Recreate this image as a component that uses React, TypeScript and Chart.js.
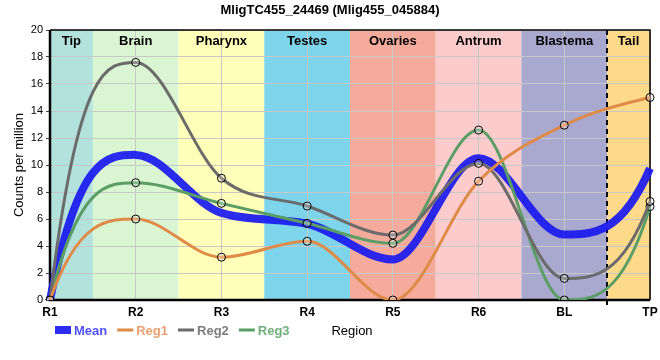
import React, { useEffect, useRef } from "react";
import { Chart, registerables } from "chart.js";

Chart.register(...registerables);

const titleText = "MligTC455_24469 (Mlig455_045884)";
const yAxisTitle = "Counts per million";
const xAxisTitle = "Region";
const regions = ["R1", "R2", "R3", "R4", "R5", "R6", "BL", "TP"];
const meanValues = [0, 10.75, 6.45, 5.65, 3.0, 10.5, 4.85, 9.75];
const reg1Values = [0, 6.0, 3.17, 4.35, 0, 8.8, 12.95, 15.0];
const reg2Values = [0, 17.6, 9.02, 6.96, 4.81, 10.12, 1.6, 7.3];
const reg3Values = [0, 8.69, 7.16, 5.68, 4.2, 12.59, 0, 6.92];
const bandNames = ["Tip", "Brain", "Pharynx", "Testes", "Ovaries", "Antrum", "Blastema", "Tail"];
const bandColors = ["#b3e2dd", "#d9f5d1", "#ffffb9", "#7ed4ea", "#f4ab9c", "#fccbcb", "#a9a8cf", "#fdd98a"];
const seriesNames = ["Mean", "Reg1", "Reg2", "Reg3"];
const seriesColors = ["rgba(25,25,240,0.92)", "#e08a48", "#6b6b6b", "#5a9e66"];
const legendTextColors = ["#5050ff", "#e8a070", "#7c7c7c", "#6fb07a"];
const dividerAfter = 6; // dashed line between BL and TP

const FONT = "'Liberation Sans', Arial, sans-serif";

const sgn = (v: number) => (v > 0 ? 1 : v < 0 ? -1 : 0);

// Monotone cubic tangents with steeper end tangents (matches the reference's curve style)
function applyTangents(chart: any) {
  const area = chart.chartArea;
  const clampY = (v: number) => Math.max(area.top, Math.min(area.bottom, v));
  chart.getSortedVisibleDatasetMetas().forEach((meta: any) => {
    const line = meta.dataset;
    if (line && typeof line.updateControlPoints === "function") line.updateControlPoints(area, "x");
    const pts = meta.data;
    const n = pts.length;
    if (n < 3) return;
    const d: number[] = [];
    for (let i = 0; i < n - 1; i++) d.push((pts[i + 1].y - pts[i].y) / (pts[i + 1].x - pts[i].x));
    const m: number[] = new Array(n).fill(0);
    for (let i = 1; i < n - 1; i++) {
      m[i] = sgn(d[i - 1]) !== sgn(d[i]) || d[i - 1] === 0 || d[i] === 0 ? 0 : (d[i - 1] + d[i]) / 2;
    }
    m[0] = 3 * d[0] - 1.5 * m[1];
    if (sgn(m[0]) !== sgn(d[0])) m[0] = 0;
    m[n - 1] = 3 * d[n - 2] - 1.5 * m[n - 2];
    if (sgn(m[n - 1]) !== sgn(d[n - 2])) m[n - 1] = 0;
    for (let i = 0; i < n - 1; i++) {
      if (d[i] === 0) { m[i] = 0; m[i + 1] = 0; continue; }
      const a = m[i] / d[i];
      const b = m[i + 1] / d[i];
      const s = a * a + b * b;
      if (s > 9) {
        const t = 3 / Math.sqrt(s);
        m[i] = t * a * d[i];
        m[i + 1] = t * b * d[i];
      }
    }
    for (let i = 0; i < n; i++) {
      const p = pts[i];
      if (i > 0) {
        const dx = p.x - pts[i - 1].x;
        p.cp1x = p.x - dx / 3;
        p.cp1y = clampY(p.y - (m[i] * dx) / 3);
      }
      if (i < n - 1) {
        const dx = pts[i + 1].x - p.x;
        p.cp2x = p.x + dx / 3;
        p.cp2y = clampY(p.y + (m[i] * dx) / 3);
      }
    }
    if (line) line._path = undefined;
  });
}

const overlayPlugin = {
  id: "overlay",
  beforeDraw(chart: any) {
    const { ctx, chartArea: a, scales } = chart;
    const x = scales.x;
    ctx.save();
    ctx.fillStyle = "#ffffff";
    ctx.fillRect(0, 0, chart.width, chart.height);
    bandNames.forEach((_, i) => {
      const l = Math.max(a.left, x.getPixelForValue(i - 0.5));
      const r = Math.min(a.right, x.getPixelForValue(i + 0.5));
      ctx.fillStyle = bandColors[i];
      ctx.fillRect(l, a.top, r - l, a.bottom - a.top);
    });
    ctx.restore();
  },
  beforeDatasetsDraw(chart: any) {
    applyTangents(chart);
    const { ctx, chartArea: a, scales } = chart;
    const x = scales.x;
    ctx.save();
    // band labels
    ctx.font = `bold 13px ${FONT}`;
    ctx.fillStyle = "#000";
    ctx.textAlign = "center";
    ctx.textBaseline = "middle";
    bandNames.forEach((name, i) => {
      const l = Math.max(a.left, x.getPixelForValue(i - 0.5));
      const r = Math.min(a.right, x.getPixelForValue(i + 0.5));
      ctx.fillText(name, (l + r) / 2, a.top + 11);
    });
    // dashed divider
    const dx = Math.round(x.getPixelForValue(dividerAfter + 0.5));
    ctx.strokeStyle = "#000";
    ctx.lineWidth = 2;
    ctx.setLineDash([5, 4]);
    ctx.beginPath();
    ctx.moveTo(dx, a.top);
    ctx.lineTo(dx, a.bottom + 6);
    ctx.stroke();
    ctx.setLineDash([]);
    // frame
    ctx.lineWidth = 1.5;
    ctx.beginPath();
    ctx.moveTo(a.left, a.top);
    ctx.lineTo(a.right, a.top);
    ctx.lineTo(a.right, a.bottom);
    ctx.stroke();
    ctx.lineWidth = 2.5;
    ctx.beginPath();
    ctx.moveTo(a.left, a.top);
    ctx.lineTo(a.left, a.bottom);
    ctx.lineTo(a.right, a.bottom);
    ctx.stroke();
    ctx.restore();
  },
  afterDraw(chart: any) {
    const { ctx, chartArea: a } = chart;
    ctx.save();
    // title
    ctx.font = `bold 13px ${FONT}`;
    ctx.fillStyle = "#000";
    ctx.textAlign = "center";
    ctx.textBaseline = "middle";
    ctx.fillText(titleText, (a.left + a.right) / 2 - 20, 10);
    // legend
    const ly = 330;
    let lx = 55;
    ctx.textAlign = "left";
    seriesNames.forEach((name, i) => {
      if (i === 0) {
        ctx.fillStyle = seriesColors[0];
        ctx.fillRect(lx, ly - 4, 16, 8);
      } else {
        ctx.strokeStyle = seriesColors[i];
        ctx.lineWidth = 3;
        ctx.beginPath();
        ctx.moveTo(lx, ly);
        ctx.lineTo(lx + 16, ly);
        ctx.stroke();
      }
      ctx.font = `bold 13px ${FONT}`;
      ctx.fillStyle = legendTextColors[i];
      ctx.fillText(name, lx + 19, ly + 1);
      lx += 19 + ctx.measureText(name).width + 10;
    });
    // x axis title
    ctx.font = `13px ${FONT}`;
    ctx.fillStyle = "#000";
    ctx.textAlign = "center";
    ctx.fillText(xAxisTitle, (a.left + a.right) / 2 + 2, ly + 1);
    ctx.restore();
  },
};

export default function App() {
  const ref = useRef<HTMLCanvasElement | null>(null);
  useEffect(() => {
    document.body.style.margin = "0";
    const canvas = ref.current;
    if (!canvas) return;
    const pointStyle = {
      pointRadius: 4,
      pointBorderColor: "#000",
      pointBorderWidth: 1,
      pointBackgroundColor: "rgba(255,255,255,0.25)",
      borderWidth: 3,
      cubicInterpolationMode: "monotone" as const,
      fill: false,
      order: 0,
    };
    const chart = new Chart(canvas, {
      type: "line",
      data: {
        labels: regions,
        datasets: [
          {
            label: seriesNames[0],
            data: meanValues,
            borderColor: seriesColors[0],
            backgroundColor: seriesColors[0],
            borderWidth: 8,
            pointRadius: 0,
            cubicInterpolationMode: "monotone",
            fill: false,
            order: 10,
          },
          { ...pointStyle, label: seriesNames[1], data: reg1Values, borderColor: seriesColors[1], backgroundColor: seriesColors[1] },
          { ...pointStyle, label: seriesNames[2], data: reg2Values, borderColor: seriesColors[2], backgroundColor: seriesColors[2] },
          { ...pointStyle, label: seriesNames[3], data: reg3Values, borderColor: seriesColors[3], backgroundColor: seriesColors[3] },
        ],
      },
      options: {
        responsive: false,
        animation: false,
        layout: { padding: { top: 30, right: 0, left: 0, bottom: 0 } },
        plugins: {
          legend: { display: false },
          title: { display: false },
          tooltip: { enabled: false },
        },
        scales: {
          x: {
            type: "category",
            offset: false,
            grid: { color: "#c8c8c8", lineWidth: 1, drawTicks: false },
            border: { display: false },
            ticks: { color: "#000", font: { family: FONT, size: 12, weight: "bold" }, padding: 5, autoSkip: false, maxRotation: 0 },
            afterFit: (s: any) => {
              s.height = 60;
              s.paddingRight = 10;
              s.paddingLeft = 0;
            },
          },
          y: {
            min: 0,
            max: 20,
            grid: { color: "#c8c8c8", lineWidth: 1, tickLength: 4, tickColor: "#444" },
            border: { display: false },
            ticks: { stepSize: 2, color: "#000", font: { family: FONT, size: 11 }, padding: 3 },
            title: { display: true, text: yAxisTitle, color: "#000", font: { family: FONT, size: 13 }, padding: { top: 12, bottom: 0 } },
            afterFit: (s: any) => { s.width = 50; },
          },
        },
      },
      plugins: [overlayPlugin],
    } as any);
    return () => chart.destroy();
  }, []);
  return <canvas ref={ref} width={660} height={360} style={{ display: "block", width: 660, height: 360 }} />;
}
